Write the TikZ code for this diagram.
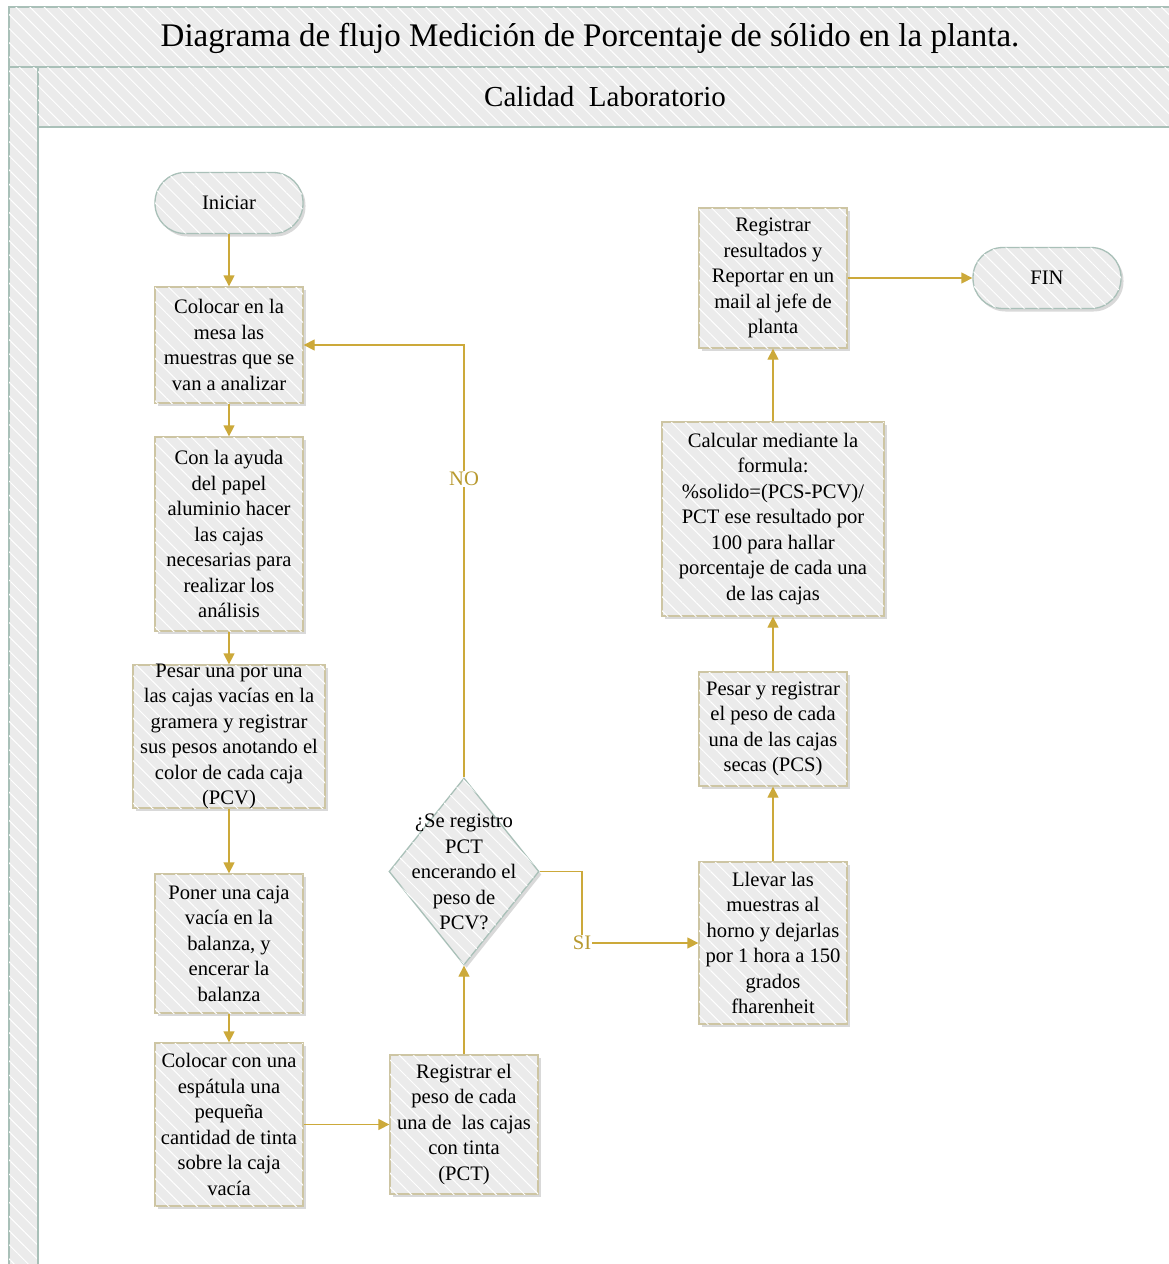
\documentclass[tikz,border=0pt]{standalone}
\usepackage{fontspec}
\setmainfont{Liberation Serif}
\usetikzlibrary{shapes.geometric,arrows.meta,shadows,patterns.meta}
\definecolor{boxfill}{HTML}{EBEBEB}
\definecolor{boxborder}{HTML}{CDC5A3}
\definecolor{laneborder}{HTML}{A9C0B8}
\definecolor{flow}{HTML}{CCA93A}
\definecolor{flowtext}{HTML}{B8992F}
\begin{document}
\begin{tikzpicture}[x=1pt,y=-1pt,
  txt/.style={font=\fontsize{20.6}{25.5}\selectfont},
  hatch/.style={postaction={pattern={Lines[angle=-45,distance=10pt,line width=1pt]},pattern color=white,fill opacity=0.22}},
  lanebox/.style={draw=laneborder,line width=1.3pt,fill=boxfill,hatch},
  stepbox/.style={txt,rectangle,draw=boxborder,line width=1.3pt,fill=boxfill,align=center,inner sep=2pt,
    drop shadow={shadow xshift=2.5pt,shadow yshift=-3pt,opacity=0.15,fill=black},hatch},
  termbox/.style={txt,rectangle,rounded corners=30pt,draw=laneborder,line width=1.3pt,fill=boxfill,align=center,
    minimum width=148pt,minimum height=61pt,
    drop shadow={shadow xshift=2.5pt,shadow yshift=-3pt,opacity=0.15,fill=black},hatch},
  decbox/.style={diamond,draw=laneborder,line width=1.3pt,fill=boxfill,inner sep=0pt,
    minimum width=150pt,minimum height=187pt,
    drop shadow={shadow xshift=2.5pt,shadow yshift=-3pt,opacity=0.15,fill=black},hatch},
  flowline/.style={draw=flow,line width=1.3pt,-{Triangle[length=11pt,width=11pt]}},
  flowlabel/.style={txt,text=flowtext,fill=white,inner sep=1pt}]

\useasboundingbox (0,0) rectangle (1169,1264);

% pool and lane frame
\fill[white] (0,0) rectangle (1169,1264);
\path[lanebox] (9,7) rectangle (1180,67);
\path[lanebox] (9,67) rectangle (38,1275);
\path[lanebox] (38,67) rectangle (1180,127);
\draw[laneborder,line width=1.3pt,fill=white] (38,127) rectangle (1180,1275);
\node[font=\fontsize{33}{38}\selectfont] (title) at (590,38) {Diagrama de flujo Medición de Porcentaje de sólido en la planta.};
\node[font=\fontsize{29}{35}\selectfont] (lane) at (605,97) {Calidad\ \ Laboratorio};

% process steps
\node[termbox] (ini) at (229,203) {Iniciar};
\node[stepbox,minimum width=148pt,minimum height=116pt] (b1) at (229,345)
  {Colocar en la\\mesa las\\muestras que se\\van a analizar};
\node[stepbox,minimum width=148pt,minimum height=194pt] (b2) at (229,534)
  {Con la ayuda\\del papel\\aluminio hacer\\las cajas\\necesarias para\\realizar los\\análisis};
\node[stepbox,minimum width=192pt,minimum height=143pt,inner ysep=-6pt] (b3) at (229,736.5)
  {Pesar una por una\\las cajas vacías en la\\gramera y registrar\\sus pesos anotando el\\color de cada caja\\(PCV)};
\node[stepbox,minimum width=148pt,minimum height=139pt] (b4) at (229,943.5)
  {Poner una caja\\vacía en la\\balanza, y\\encerar la\\balanza};
\node[stepbox,minimum width=148pt,minimum height=163pt] (b5) at (229,1124.5)
  {Colocar con una\\espátula una\\pequeña\\cantidad de tinta\\sobre la caja\\vacía};
\node[stepbox,minimum width=148pt,minimum height=139pt] (b6) at (464,1124.5)
  {Registrar el\\peso de cada\\una de\ \ las cajas\\con tinta\\(PCT)};
\node[decbox] (dec) at (464,871.5) {};
\node[txt,align=center,inner sep=0pt] (dectext) at (464,872)
  {¿Se registro\\PCT\\encerando el\\peso de\\PCV?};
\node[stepbox,minimum width=148pt,minimum height=162pt] (b7) at (773,943)
  {Llevar las\\muestras al\\horno y dejarlas\\por 1 hora a 150\\grados\\fharenheit};
\node[stepbox,minimum width=148pt,minimum height=114pt] (b8) at (773,729)
  {Pesar y registrar\\el peso de cada\\una de las cajas\\secas (PCS)};
\node[stepbox,minimum width=222pt,minimum height=194pt] (b9) at (773,519)
  {Calcular mediante la\\formula:\\\%solido=(PCS-PCV)/\\PCT ese resultado por\\100 para hallar\\porcentaje de cada una\\de las cajas};
\node[stepbox,minimum width=148pt,minimum height=140pt] (b10) at (773,278)
  {Registrar\\resultados y\\Reportar en un\\mail al jefe de\\planta};
\node[termbox] (fin) at (1047,278) {FIN};

% connectors
\draw[flowline] (ini) -- (b1);
\draw[flowline] (b1) -- (b2);
\draw[flowline] (b2) -- (b3);
\draw[flowline] (b3) -- (b4);
\draw[flowline] (b4) -- (b5);
\draw[flowline] (b5) -- (b6);
\draw[flowline] (b6) -- (dec);
\draw[flowline] (dec.north) |- node[flowlabel,pos=0.345] {NO} (b1.east);
\coordinate (siturn) at (582,871.5);
\draw[flowline] (dec.east) -- (siturn) |- node[flowlabel,pos=0.5] {SI} (b7.west);
\draw[flowline] (b7) -- (b8);
\draw[flowline] (b8) -- (b9);
\draw[flowline] (b9) -- (b10);
\draw[flowline] (b10) -- (fin);
\end{tikzpicture}
\end{document}
